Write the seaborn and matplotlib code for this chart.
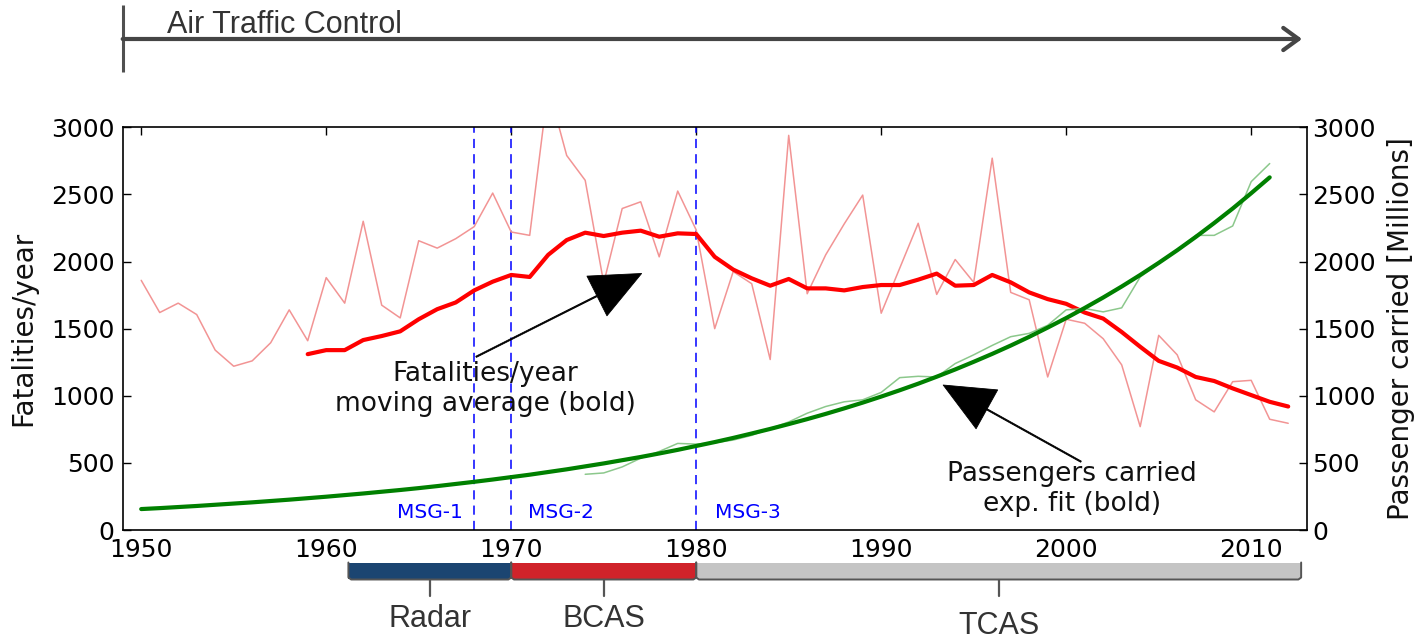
import matplotlib
matplotlib.use("Agg")
import matplotlib.pyplot as plt
import seaborn as sns
import pandas as pd

# ---------------- data ----------------
years_fatal = list(range(1950, 2013))
fatalities = [1860, 1620, 1690, 1605, 1340, 1220, 1260, 1395, 1640, 1410,
              1880, 1690, 2300, 1675, 1580, 2155, 2100, 2170, 2260, 2510,
              2220, 2195, 3300, 2790, 2605, 1840, 2395, 2445, 2035, 2525,
              2235, 1500, 1925, 1835, 1270, 2940, 1760, 2050, 2280, 2495,
              1615, 1950, 2285, 1755, 2015, 1845, 2770, 1770, 1715, 1140,
              1570, 1540, 1425, 1230, 770, 1450, 1305, 970, 880, 1105,
              1115, 825, 795]

years_ma = list(range(1959, 2013))
fatal_ma = [1310, 1340, 1340, 1415, 1445, 1480, 1570, 1645, 1695, 1785,
            1850, 1900, 1885, 2050, 2160, 2215, 2190, 2215, 2230, 2185,
            2210, 2205, 2035, 1940, 1875, 1820, 1870, 1800, 1800, 1785,
            1810, 1825, 1825, 1865, 1910, 1820, 1825, 1900, 1845, 1770,
            1720, 1685, 1620, 1575, 1475, 1365, 1260, 1210, 1140, 1110,
            1055, 1005, 955, 920]

years_pax = list(range(1974, 2012))
passengers = [415, 425, 470, 535, 585, 645, 640, 650, 670, 705,
              755, 805, 870, 920, 955, 970, 1025, 1135, 1145, 1140,
              1240, 1305, 1375, 1440, 1465, 1525, 1640, 1650, 1625, 1655,
              1885, 1985, 2085, 2195, 2195, 2265, 2595, 2730]

years_fit = list(range(1950, 2012))
pax_fit = [156, 163, 171, 179, 188, 197, 206, 216, 226, 237,
           248, 260, 272, 285, 298, 312, 327, 343, 359, 376,
           394, 412, 432, 452, 474, 496, 520, 544, 570, 597,
           626, 655, 686, 719, 753, 789, 826, 865, 906, 949,
           994, 1041, 1090, 1142, 1196, 1253, 1312, 1374, 1439, 1508,
           1579, 1654, 1732, 1814, 1900, 1990, 2084, 2183, 2287, 2395,
           2509, 2627]

msg_years = [1968, 1970, 1980]
msg_labels = ["MSG-1", "MSG-2", "MSG-3"]

era_labels = ["Radar", "BCAS", "TCAS"]
era_start = [1961.2, 1970, 1980]
era_end = [1970, 1980, 2012.7]
era_colors = ["#1b4571", "#d0232a", "#c4c4c4"]

x_ticks = [1950, 1960, 1970, 1980, 1990, 2000, 2010]
y_ticks = [0, 500, 1000, 1500, 2000, 2500, 3000]

# ---------------- style ----------------
sns.set_theme(style="white")
plt.rcParams["font.family"] = ["DejaVu Sans"]

W_PX, H_PX = 1416, 640
fig = plt.figure(figsize=(W_PX / 100, H_PX / 100), dpi=100)

ax_l, ax_r, ax_t, ax_b = 122.7, 1306.7, 127.3, 530.0
L = ax_l / W_PX
Wd = (ax_r - ax_l) / W_PX
ax = fig.add_axes([L, 1 - ax_b / H_PX, Wd, (ax_b - ax_t) / H_PX])
XLIM = (1949, 2013)
YLIM = (0, 3000)

df_f = pd.DataFrame({"year": years_fatal, "val": fatalities})
df_ma = pd.DataFrame({"year": years_ma, "val": fatal_ma})
df_p = pd.DataFrame({"year": years_pax, "val": passengers})
df_fit = pd.DataFrame({"year": years_fit, "val": pax_fit})

for xv in msg_years:
    ax.axvline(xv, color="blue", lw=1.1, dashes=(6, 4), zorder=1)

sns.lineplot(data=df_f, x="year", y="val", ax=ax, color="#f29494", lw=1.1, zorder=2)
sns.lineplot(data=df_ma, x="year", y="val", ax=ax, color="red", lw=3.0, zorder=3)

msg_offset = [-0.6, 0.9, 1.0]
msg_align = ["right", "left", "left"]
for xv, lab, off, al in zip(msg_years, msg_labels, msg_offset, msg_align):
    ax.text(xv + off, 134, lab, color="blue", fontsize=14.5, ha=al, va="center")

ax.set_xlim(*XLIM)
ax.set_ylim(*YLIM)
ax.set_xticks(x_ticks)
ax.set_yticks(y_ticks)
ax.set_xlabel("")
ax.set_ylabel("Fatalities/year", fontsize=20, color="#111")
ax.yaxis.set_label_coords(-0.0724, 0.5)
ax.tick_params(axis="both", direction="in", length=6, width=1, colors="black",
               labelsize=18, top=True, right=True)
ax.tick_params(axis="y", pad=6)
ax.tick_params(axis="x", pad=6)
for sp in ax.spines.values():
    sp.set_color("black")
    sp.set_linewidth(1.2)

ax2 = ax.twinx()
sns.lineplot(data=df_p, x="year", y="val", ax=ax2, color="#8cc88c", lw=1.1, zorder=2)
sns.lineplot(data=df_fit, x="year", y="val", ax=ax2, color="green", lw=3.0, zorder=3)
ax2.set_xlim(*XLIM)
ax2.set_ylim(*YLIM)
ax2.set_yticks(y_ticks)
ax2.set_ylabel("Passenger carried [Millions]", fontsize=20, color="#111")
ax2.yaxis.set_label_coords(1.0676, 0.5)
ax2.tick_params(axis="y", direction="in", length=6, width=1, colors="black",
                labelsize=18, pad=4)
for sp in ax2.spines.values():
    sp.set_visible(False)

arrow_kw = dict(facecolor="black", edgecolor="black", width=0.9, linewidth=0.6,
                headwidth=32, headlength=36, shrink=0)
ax2.annotate("", xy=(1977.05, 1911), xytext=(1968.1, 1290), arrowprops=arrow_kw)
ax2.text(1968.6, 1050, "Fatalities/year\nmoving average (bold)", ha="center",
         va="center", fontsize=19, color="#111", linespacing=1.2)
ax2.annotate("", xy=(1993.35, 1080), xytext=(2000.8, 509), arrowprops=arrow_kw)
ax2.text(2000.3, 308, "Passengers carried\nexp. fit (bold)", ha="center",
         va="center", fontsize=19, color="#111", linespacing=1.2)

# ---------------- top: Air Traffic Control arrow ----------------
ax_top = fig.add_axes([L, 1 - 100 / H_PX, Wd, 100 / H_PX])
ax_top.set_xlim(*XLIM)
ax_top.set_ylim(100, 0)
ax_top.axis("off")
ax_top.vlines(XLIM[0], 5, 72, color="#505050", lw=2.2, clip_on=False)
ax_top.annotate("", xy=(2012.75, 39), xytext=(XLIM[0], 39),
                arrowprops=dict(arrowstyle="->,head_length=1.1,head_width=0.8",
                                lw=3, color="#454545", mutation_scale=10,
                                shrinkA=0, shrinkB=0), annotation_clip=False)
ax_top.text(1951.4, 25, "Air Traffic Control", fontsize=22, ha="left", va="center",
            color="#333333", family=["Liberation Sans", "DejaVu Sans"])

# ---------------- bottom: era bars ----------------
ax_bot = fig.add_axes([L, 0, Wd, 100 / H_PX])
ax_bot.set_xlim(*XLIM)
ax_bot.set_ylim(100, 0)
ax_bot.axis("off")
widths = [e - s for s, e in zip(era_start, era_end)]
ax_bot.barh(y=[30.5] * 3, width=widths, left=era_start, height=16,
            color=era_colors, edgecolor="none")
label_y = [79, 79, 86]
for s, e, lab, ly in zip(era_start, era_end, era_labels, label_y):
    m = (s + e) / 2
    ax_bot.plot([s, s, s + 0.15, e - 0.15, e, e],
                [22.5, 37.5, 39.5, 39.5, 37.5, 22.5],
                color="#555555", lw=1.4, clip_on=False)
    ax_bot.plot([m, m], [39.5, 56], color="#555555", lw=1.6, clip_on=False)
    ax_bot.text(m, ly, lab, fontsize=22, ha="center", va="center", color="#333333",
                family=["Liberation Sans", "DejaVu Sans"])

fig.savefig("out.png", dpi=100)
